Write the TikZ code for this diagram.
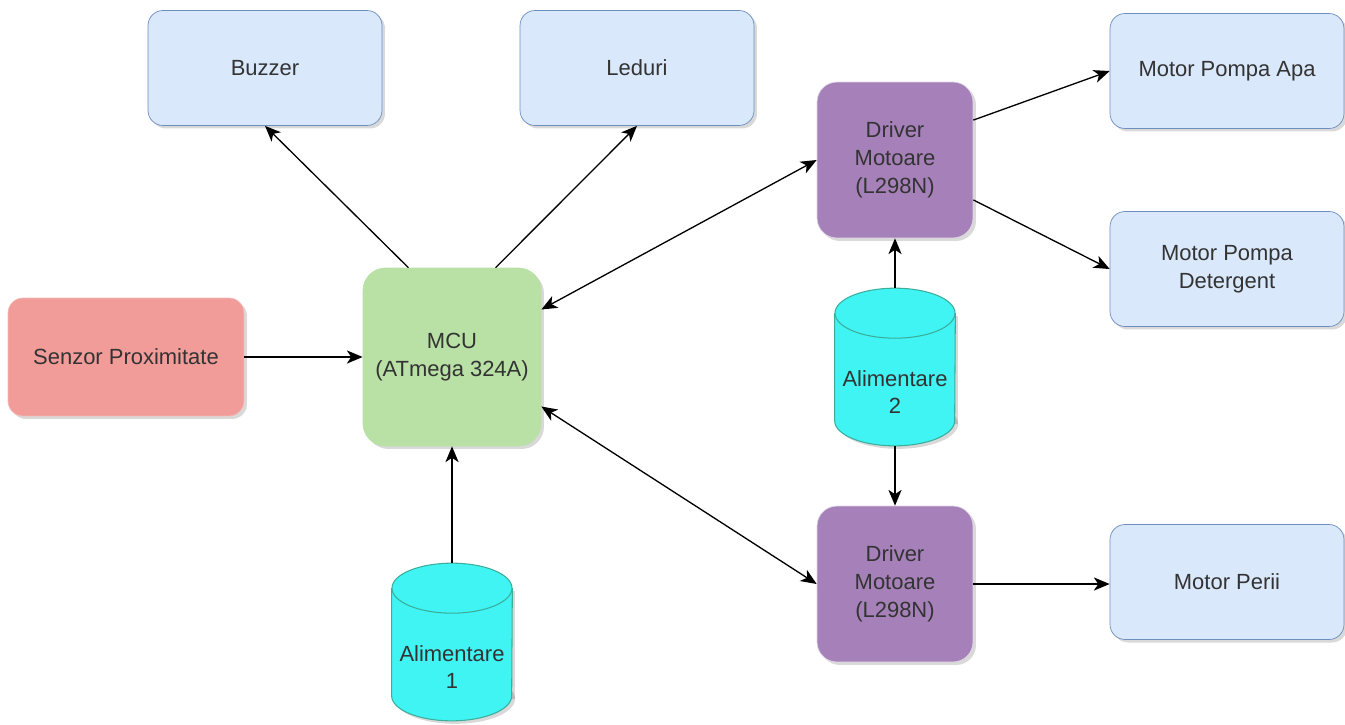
\documentclass[tikz,border=0pt]{standalone}
\usepackage{fontspec}
\setmainfont{Liberation Sans}
\usetikzlibrary{shapes,arrows,arrows.meta,positioning,shadows,calc}

\definecolor{blueFill}{HTML}{DAE8FC}
\definecolor{blueLine}{HTML}{6C8EBF}
\definecolor{greenFill}{HTML}{B9E0A5}
\definecolor{purpleFill}{HTML}{A680B8}
\definecolor{purpleLine}{HTML}{E1D5E7}
\definecolor{redFill}{HTML}{F19C99}
\definecolor{cyanFill}{HTML}{40F4F4}
\definecolor{cyanLine}{HTML}{3AAE9A}
\definecolor{txt}{HTML}{333333}

\begin{document}
\begin{tikzpicture}[x=0.02cm, y=-0.02cm,
    base/.style={rounded corners=0.3cm, align=center, text=txt,
        font=\fontsize{12.5}{16}\selectfont,
        drop shadow={opacity=0.3, shadow xshift=0.06cm, shadow yshift=-0.06cm}},
    periph/.style={base, draw=blueLine, fill=blueFill, minimum width=4.68cm, minimum height=2.3cm},
    mcubox/.style={base, draw=greenFill, fill=greenFill, rounded corners=0.45cm, minimum width=3.56cm, minimum height=3.56cm},
    driver/.style={base, draw=purpleLine, fill=purpleFill, rounded corners=0.4cm, minimum width=3.12cm, minimum height=3.12cm},
    sensor/.style={base, draw=redFill!70!white, fill=redFill, minimum width=4.72cm, minimum height=2.36cm},
    supply/.style={minimum width=2.4cm, minimum height=3.14cm, inner sep=0pt},
    supplytext/.style={align=center, text=txt, font=\fontsize{12.5}{15}\selectfont},
    cylfill/.style={fill=cyanFill},
    cylline/.style={draw=cyanLine, line width=0.6pt},
    arrow/.style={->, line width=0.75pt, >={Stealth[length=9pt,width=7.5pt,inset=2.5pt]}},
    biarrow/.style={arrow, <->}
]
    \useasboundingbox (0,0) rectangle (1345,724);

    % blocuri principale
    \node[periph] (buzzer) at (265,68) {Buzzer};
    \node[periph] (leduri) at (637,68) {Leduri};
    \node[sensor] (senzor) at (126,357) {Senzor Proximitate};
    \node[mcubox] (mcu) at (452,357) {MCU\\(ATmega 324A)};
    \node[driver] (drvA) at (895,160) {Driver\\Motoare\\(L298N)};
    \node[driver] (drvB) at (895,584) {Driver\\Motoare\\(L298N)};
    \node[periph] (apa) at (1227,71) {Motor Pompa Apa};
    \node[periph] (detergent) at (1227,269) {Motor Pompa\\Detergent};
    \node[periph] (perii) at (1227,582) {Motor Perii};

    % surse de alimentare (cilindri)
    \node[supply] (alim1) at (452,642) {};
    \node[supply] (alim2) at (895,367) {};
    \foreach \c in {alim1,alim2} {
        \fill[black, opacity=0.15] ($(\c.north west)+(3,28)$) rectangle ($(\c.south east)+(3,-22)$);
        \fill[black, opacity=0.15] ($(\c.south)+(3,-22)$) ellipse [x radius=60, y radius=25];
        \fill[cylfill] ($(\c.north west)+(0,25)$) rectangle ($(\c.south east)+(0,-25)$);
        \fill[cylfill] ($(\c.south)+(0,-25)$) ellipse [x radius=60, y radius=25];
        \draw[cylline] ($(\c.north west)+(0,25)$) -- ($(\c.south west)+(0,-25)$)
            arc[start angle=180, end angle=0, x radius=60, y radius=25]
            -- ($(\c.north east)+(0,25)$);
        \draw[cylline, cylfill] ($(\c.north)+(0,25)$) ellipse [x radius=60, y radius=25];
    }
    \node[supplytext] (alim1txt) at (452,667) {Alimentare\\1};
    \node[supplytext] (alim2txt) at (895,392) {Alimentare\\2};

    \draw[arrow] (mcu.116) -- (buzzer.south);
    \draw[arrow] (mcu.64) -- (leduri.south);
    \draw[arrow] (senzor.east) -- (mcu.west);
    \draw[arrow] (alim1.north) -- (mcu.south);
    \draw[biarrow] (mcu.28) -- (drvA.west);
    \draw[biarrow] (mcu.-29) -- (drvB.west);
    \draw[arrow] (alim2.north) -- (drvA.south);
    \draw[arrow] (alim2.south) -- (drvB.north);
    \draw[arrow] (drvA.27) -- (apa.west);
    \draw[arrow] (drvA.-27) -- (detergent.west);
    \draw[arrow] (drvB.east) -- (drvB.east -| perii.west);
\end{tikzpicture}
\end{document}
